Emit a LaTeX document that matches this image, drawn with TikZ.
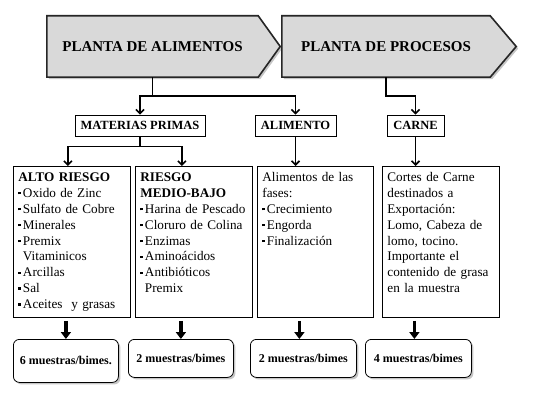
\documentclass[tikz,border=0pt]{standalone}
\usepackage{fontspec}
\setmainfont{Liberation Serif}
\usetikzlibrary{positioning, calc, backgrounds, shadows, arrows.meta}
\newcommand{\VIN}{\raisebox{0.22em}{\rule{0.18em}{0.18em}}\,}

\begin{document}
\begin{tikzpicture}[x=1pt, y=-1pt]

\pgfmathsetmacro{\PW}{22}
\pgfmathsetmacro{\DY}{19}
\pgfmathsetmacro{\DZ}{10}

\tikzset{
  sombra/.style={drop shadow={shadow xshift=2pt, shadow yshift=-2pt, opacity=0.45}},
  chev/.style={draw=black!85, line width=1.6pt, fill=black!15, sombra},
  cuerpo/.style={minimum height=61pt, inner sep=0pt, font=\fontsize{15}{18}\selectfont\bfseries},
  cat/.style={draw, line width=0.8pt, minimum height=21pt, inner sep=2pt, font=\fontsize{12.5}{15}\selectfont\bfseries},
  caja/.style={draw, line width=0.8pt, anchor=north west, align=left, text width=107pt, inner xsep=5pt, inner ysep=5pt, text height=10pt, text depth=131pt, font=\fontsize{13.2}{15.9}\selectfont},
  mues/.style={draw, line width=0.8pt, rounded corners=6pt, fill=white, anchor=north west, minimum height=38pt, inner sep=2pt, font=\fontsize{12}{14}\selectfont\bfseries, sombra},
  lin/.style={line width=1.6pt},
  fl/.style={line width=1.6pt, -{Straight Barb[length=4pt, width=8pt]}},
  flg/.style={line width=3.2pt, -{Triangle[length=7pt, width=10pt]}, shorten <=3pt},
}

\useasboundingbox (0,0) rectangle (554,401);

\node [cuerpo, minimum width=211pt] (PA) at (152.5, 46.5) {PLANTA DE ALIMENTOS};
\node [cuerpo, minimum width=208pt] (PP) at (386, 46.5) {PLANTA DE PROCESOS};

\begin{scope}[on background layer]
\draw [chev] (PA.north west) -- (PA.north east) -- ($(PA.east) + (\PW, 0)$) -- (PA.south east) -- (PA.south west) -- cycle;
\draw [chev] (PP.north west) -- (PP.north east) -- ($(PP.east) + (\PW+4, 0)$) -- (PP.south east) -- (PP.south west) -- cycle;
\end{scope}

\node [cat, minimum width=130pt] (MP) at (140, 125.5) {MATERIAS PRIMAS};
\node [cat, minimum width=81pt] (AL) at (295.5, 125.5) {ALIMENTO};
\node [cat, minimum width=57pt] (CA) at (415.5, 125.5) {CARNE};

\node [caja] (b1) at (13, 166) {\textbf{ALTO RIESGO}\\
\VIN Oxido de Zinc\\
\VIN Sulfato de Cobre\\
\VIN Minerales\\
\VIN Premix\\
\phantom{\VIN}Vitaminicos\\
\VIN Arcillas\\
\VIN Sal\\
\VIN Aceites~ y grasas};

\node [caja] (b2) at (135, 166) {\textbf{RIESGO}\\
\textbf{MEDIO-BAJO}\\
\VIN Harina de Pescado\\
\VIN Cloruro de Colina\\
\VIN Enzimas\\
\VIN Aminoácidos\\
\VIN Antibióticos\\
\phantom{\VIN}Premix};

\node [caja, text width=106pt] (b3) at (257, 166) {Alimentos de las\\
fases:\\
\VIN Crecimiento\\
\VIN Engorda\\
\VIN Finalización};

\node [caja] (b4) at (382, 166) {Cortes de Carne\\
destinados a\\
Exportación:\\
Lomo, Cabeza de\\
lomo, tocino.\\
Importante el\\
contenido de grasa\\
en la muestra};

\node [mues, minimum width=105pt, minimum height=43pt] (m1) at (13, 339) {6 muestras/bimes.};
\node [mues, minimum width=105pt] (m2) at (128, 339) {2 muestras/bimes};
\node [mues, minimum width=106pt] (m3) at (250, 339) {2 muestras/bimes};
\node [mues, minimum width=106pt] (m4) at (365, 339) {4 muestras/bimes};

\coordinate (j1) at ($(PA.south) + (0, \DY)$);
\coordinate (j2) at ($(PP.south) + (0, \DY)$);
\coordinate (j3) at ($(MP.south) + (0, \DZ)$);

\draw [lin] (PA.south) -- (j1);
\draw [fl] (j1) -| (MP.north);
\draw [fl] (j1) -| (AL.north);
\draw [fl] (PP.south) -- (j2) -| (CA.north);

\draw [lin] (MP.south) -- (j3);
\draw [fl] (j3) -| ([xshift=-4pt]b1.north);
\draw [fl] (j3) -| ([xshift=-12pt]b2.north);
\draw [fl] (AL.south) -- (AL.south |- b3.north);
\draw [fl] (CA.south) -- (CA.south |- b4.north);

\draw [flg] (m1.north |- b1.south) -- (m1.north);
\draw [flg] (m2.north |- b2.south) -- (m2.north);
\draw [flg] ([xshift=-4pt]m3.north |- b3.south) -- ([xshift=-4pt]m3.north);
\draw [flg] ([xshift=-4pt]m4.north |- b4.south) -- ([xshift=-4pt]m4.north);

\end{tikzpicture}
\end{document}
